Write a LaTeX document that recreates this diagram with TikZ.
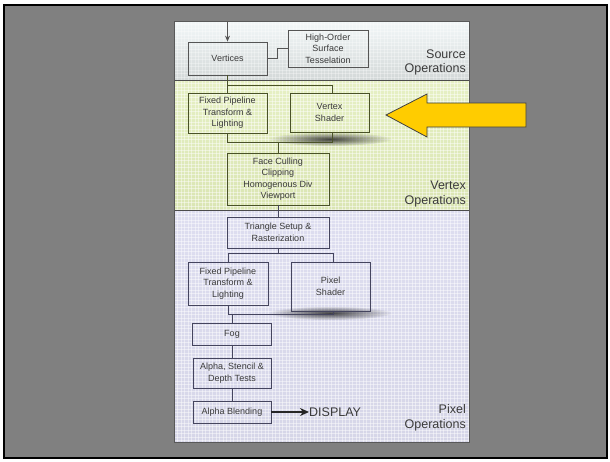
\documentclass[tikz,border=0pt]{standalone}
\usepackage{fontspec}
\setmainfont{Liberation Sans}
\usetikzlibrary{fadings,arrows.meta}
\definecolor{bggray}{HTML}{808080}
\definecolor{srcTop}{HTML}{F3F8F9}
\definecolor{srcBot}{HTML}{D3D8D8}
\definecolor{vtxTop}{HTML}{E6F0C4}
\definecolor{vtxBot}{HTML}{DAE5B3}
\definecolor{pixTop}{HTML}{DEDEF0}
\definecolor{pixBot}{HTML}{D6D6E8}
\definecolor{srcLine}{HTML}{555555}
\definecolor{vtxLine}{HTML}{4A5228}
\definecolor{pixLine}{HTML}{45455E}
\definecolor{txt}{HTML}{3A3A3A}
\definecolor{arrowYellow}{HTML}{FFCC00}
\tikzfading[name=softshadow, inner color=transparent!15, outer color=transparent!100]
\tikzset{
  pbox/.style={draw, line width=0.8pt, align=center, inner sep=0pt,
    font=\fontsize{9}{11.5}\selectfont, text=txt},
  srcbox/.style={pbox, draw=srcLine},
  vtxbox/.style={pbox, draw=vtxLine},
  pixbox/.style={pbox, draw=pixLine},
  ln/.style={line width=0.8pt},
  seclabel/.style={anchor=east, align=right, inner sep=0pt,
    font=\fontsize{12.5}{14.5}\selectfont, text=txt},
  texture/.style={white, opacity=0.45, line width=0.5pt}
}
\begin{document}
\begin{tikzpicture}[x=1pt,y=-1pt]
\useasboundingbox (0,0) rectangle (610,461);
% page background
\fill[white] (0,0) rectangle (610,461);
\fill[bggray] (4,5) rectangle (607,458);
\draw[black, line width=1.6pt] (4,5) rectangle (607,458);
% regions
\shade[top color=srcTop, bottom color=srcBot] (174,21) rectangle (469,80);
\shade[top color=vtxTop, bottom color=vtxBot] (174,80) rectangle (469,210);
\shade[top color=pixTop, bottom color=pixBot] (174,210) rectangle (469,442);
% grid texture
\foreach \xx in {177.5,181,...,469} {
  \draw[texture, opacity=0.3] (\xx,21) -- (\xx,80);
  \draw[texture] (\xx,80) -- (\xx,442);
}
\foreach \yy in {24.5,28,...,80} {
  \draw[texture, opacity=0.3] (174,\yy) -- (469,\yy);
}
\foreach \yy in {83.5,87,...,442} {
  \draw[texture] (174,\yy) -- (469,\yy);
}
\draw[black!70, line width=0.8pt] (174,80) -- (469,80);
\draw[black!70, line width=0.8pt] (174,210) -- (469,210);
\draw[black!65, line width=1pt] (174,21) rectangle (469,442);
% shadows
\fill[black!85, path fading=softshadow] (330,139) ellipse [x radius=62, y radius=7];
\fill[black!85, path fading=softshadow] (330,313) ellipse [x radius=62, y radius=7];
% source boxes
\node[srcbox, minimum width=79pt, minimum height=33pt] (vert) at (227.5,58.5) {Vertices};
\node[srcbox, minimum width=80pt, minimum height=37pt] (hos) at (328,48.5) {High-Order\\Surface\\Tesselation};
% vertex boxes
\node[vtxbox, minimum width=79pt, minimum height=40pt] (fixv) at (227.5,113) {Fixed Pipeline\\Transform \&\\Lighting};
\node[vtxbox, minimum width=79pt, minimum height=39pt] (vsh) at (329.5,112.5) {Vertex\\Shader};
\node[vtxbox, minimum width=102pt, minimum height=52pt] (face) at (278,179) {Face Culling\\Clipping\\Homogenous Div\\Viewport};
% pixel boxes
\node[pixbox, minimum width=102pt, minimum height=31pt] (tri) at (278,232.5) {Triangle Setup \&\\Rasterization};
\node[pixbox, minimum width=80pt, minimum height=43pt] (fixp) at (228,283.5) {Fixed Pipeline\\Transform \&\\Lighting};
\node[pixbox, minimum width=79pt, minimum height=49pt] (psh) at (330.5,286.5) {Pixel\\Shader};
\node[pixbox, minimum width=79pt, minimum height=22pt] (fog) at (232,334) {Fog};
\node[pixbox, minimum width=78pt, minimum height=30pt] (ast) at (232,373) {Alpha, Stencil \&\\Depth Tests};
\node[pixbox, minimum width=78pt, minimum height=22pt] (ab) at (232,412) {Alpha Blending};
\node[anchor=west, inner sep=0pt, font=\fontsize{12.5}{14}\selectfont, text=txt] (disp) at (309,412) {DISPLAY};
% section labels
\node[seclabel] (lsrc) at (466,62.5) {Source\\Operations};
\node[seclabel] (lvtx) at (466,194) {Vertex\\Operations};
\node[seclabel] (lpix) at (466,418) {Pixel\\Operations};
% coordinates
\coordinate (top) at (227.5,21);
\coordinate (hx) at (277,0);
\coordinate (s1) at (227.5,85);
\coordinate (s2) at (332,85);
\coordinate (m1) at (227.5,142);
\coordinate (m2) at (332,142);
\coordinate (s3) at (228,253);
\coordinate (s4) at (333,253);
\coordinate (m3) at (228,314);
\coordinate (m4) at (333,314);
% connectors
\draw[ln, srcLine, -{Stealth[length=6pt,width=5pt]}] (top) -- (vert.north);
\draw[ln, srcLine] (vert.east) -- (vert.east -| hx) -- (hx |- hos.west) -- (hos.west);
\draw[ln, vtxLine] (vert.south) -- (s1);
\draw[ln, vtxLine] (fixv.north) -- (s1) -- (s2) -- (s2 |- vsh.north);
\draw[ln, vtxLine] (fixv.south) -- (m1) -- (m2) -- (m2 |- vsh.south);
\draw[ln, vtxLine] (face.north) -- (face.north |- m1);
\draw[ln, pixLine] (face.south) -- (tri.north);
\draw[ln, pixLine] (tri.south) -- (tri.south |- s3);
\draw[ln, pixLine] (fixp.north) -- (s3) -- (s4) -- (s4 |- psh.north);
\draw[ln, pixLine] (fixp.south) -- (m3) -- (m4) -- (m4 |- psh.south);
\draw[ln, pixLine] (fog.north) -- (fog.north |- m3);
\draw[ln, pixLine] (fog.south) -- (ast.north);
\draw[ln, pixLine] (ast.south) -- (ab.north);
\draw[line width=1.6pt, black!85, -{Stealth[length=9pt,width=8pt]}] (ab.east) -- (disp.west);
% yellow arrow
\filldraw[fill=arrowYellow, draw=black!75, line width=0.8pt, line join=miter]
  (386,115) -- (427,94) -- (427,103) -- (526,103) -- (526,127) -- (427,127) -- (427,137) -- cycle;
\end{tikzpicture}
\end{document}
